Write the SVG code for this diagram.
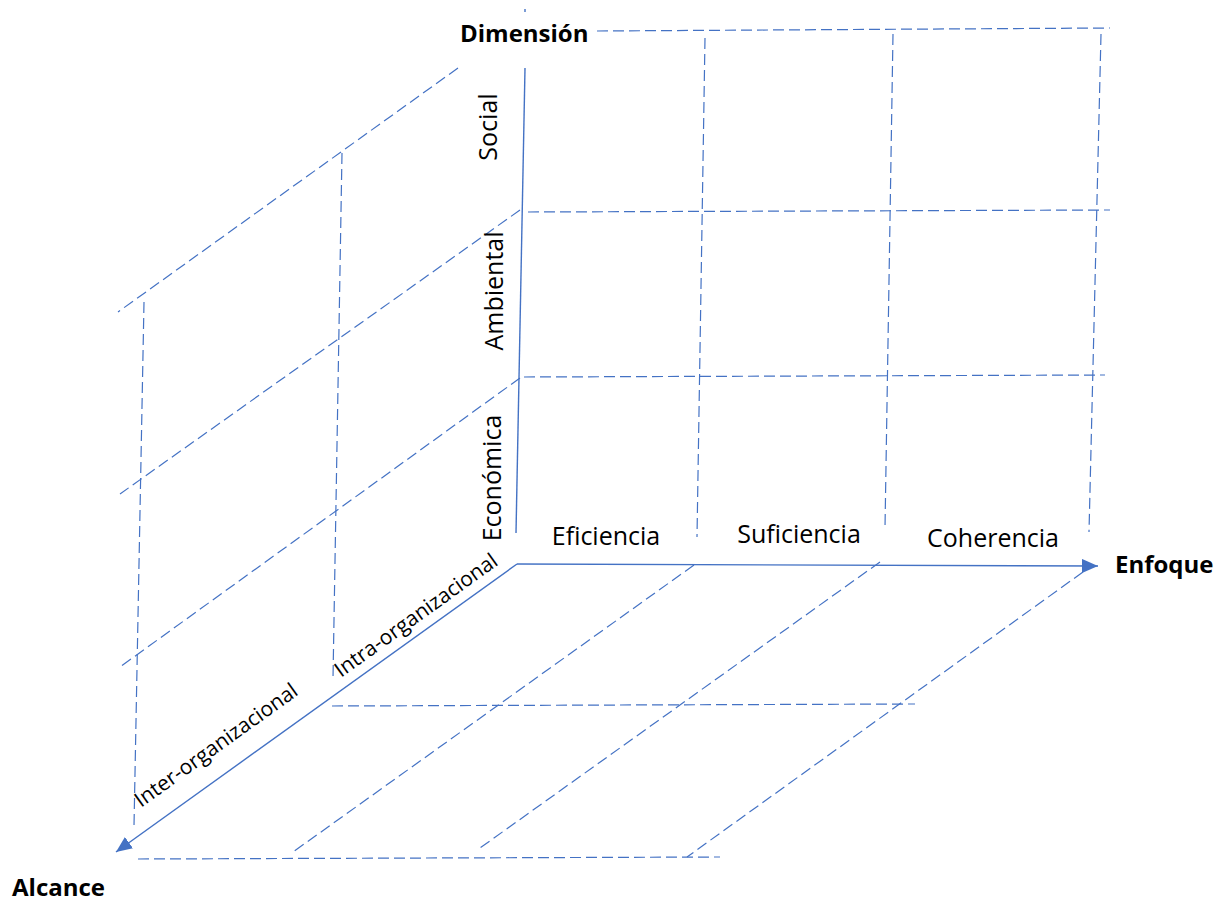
<svg xmlns="http://www.w3.org/2000/svg" width="1225" height="901" viewBox="0 0 1225 901">
  <style>
    .axis { stroke: #4472C4; stroke-width: 1.4; fill: none; }
    .grid { stroke: #4472C4; stroke-width: 1.2; fill: none; stroke-dasharray: 11 5; }
    .lbl { font-family: "Open Sans", "Noto Sans", sans-serif; font-size: 25px; fill: #000; }
    .diag { font-family: "Open Sans", "Noto Sans", sans-serif; font-size: 21px; fill: #000; }
    .title { font-family: "Open Sans", "Noto Sans", sans-serif; font-size: 24px; font-weight: bold; fill: #000; }
  </style>
  <defs>
    <marker id="arrow" markerUnits="userSpaceOnUse" markerWidth="18" markerHeight="16" refX="16" refY="7" orient="auto">
      <path d="M0,0 L16,7 L0,14 Z" fill="#4472C4"/>
    </marker>
  </defs>
  <rect width="1225" height="901" fill="#ffffff"/>

  <!-- dashed grid: back wall, side wall and floor -->
  <g id="connectors">
    <g id="back-wall">
      <line class="grid" x1="597" y1="31" x2="1110" y2="28"/>
      <line class="grid" x1="528" y1="212" x2="1110" y2="210"/>
      <line class="grid" x1="524" y1="377" x2="1105" y2="375"/>
      <line class="grid" x1="705" y1="38" x2="697" y2="537"/>
      <line class="grid" x1="893" y1="34" x2="885" y2="528"/>
      <line class="grid" x1="1101" y1="34" x2="1089" y2="532"/>
    </g>
    <g id="side-wall">
      <line class="grid" x1="458" y1="68" x2="118" y2="312"/>
      <line class="grid" x1="520" y1="210" x2="120" y2="494"/>
      <line class="grid" x1="520" y1="378" x2="120" y2="667"/>
      <line class="grid" x1="144" y1="302" x2="134" y2="826"/>
      <line class="grid" x1="342" y1="153" x2="333" y2="678"/>
    </g>
    <g id="floor">
      <line class="grid" x1="694" y1="565" x2="293" y2="852"/>
      <line class="grid" x1="880" y1="562" x2="480" y2="848"/>
      <line class="grid" x1="1083" y1="572" x2="687" y2="857"/>
      <line class="grid" x1="332" y1="706" x2="915" y2="704"/>
      <line class="grid" x1="138" y1="859" x2="720" y2="857"/>
    </g>
    <!-- solid axes -->
    <g id="axes">
      <line class="axis" x1="525" y1="68" x2="516" y2="533"/>
      <line class="axis" x1="525" y1="9" x2="525" y2="12"/>
      <line class="axis" x1="517" y1="564" x2="1098" y2="566" marker-end="url(#arrow)"/>
      <line class="axis" x1="517" y1="564" x2="116" y2="852" marker-end="url(#arrow)"/>
    </g>
  </g>

  <!-- axis titles -->
  <g id="axis-dimension"><text class="title" x="460" y="42">Dimensión</text></g>
  <g id="axis-enfoque"><text class="title" x="1115" y="573">Enfoque</text></g>
  <g id="axis-alcance"><text class="title" x="12" y="896">Alcance</text></g>

  <!-- Enfoque categories -->
  <g id="cat-eficiencia"><text class="lbl" x="606" y="545" text-anchor="middle">Eficiencia</text></g>
  <g id="cat-suficiencia"><text class="lbl" x="799" y="543" text-anchor="middle">Suficiencia</text></g>
  <g id="cat-coherencia"><text class="lbl" x="993" y="547" text-anchor="middle">Coherencia</text></g>

  <!-- Dimensión categories -->
  <g id="cat-social"><text class="lbl" text-anchor="middle" transform="translate(497,127) rotate(-90)">Social</text></g>
  <g id="cat-ambiental"><text class="lbl" text-anchor="middle" transform="translate(503,291) rotate(-90)">Ambiental</text></g>
  <g id="cat-economica"><text class="lbl" text-anchor="middle" transform="translate(501,478) rotate(-90)">Económica</text></g>

  <!-- Alcance categories -->
  <g id="cat-intra"><text class="diag" transform="translate(341,678) rotate(-35.75)">Intra-organizacional</text></g>
  <g id="cat-inter"><text class="diag" transform="translate(141,808) rotate(-35.75)">Inter-organizacional</text></g>
</svg>
